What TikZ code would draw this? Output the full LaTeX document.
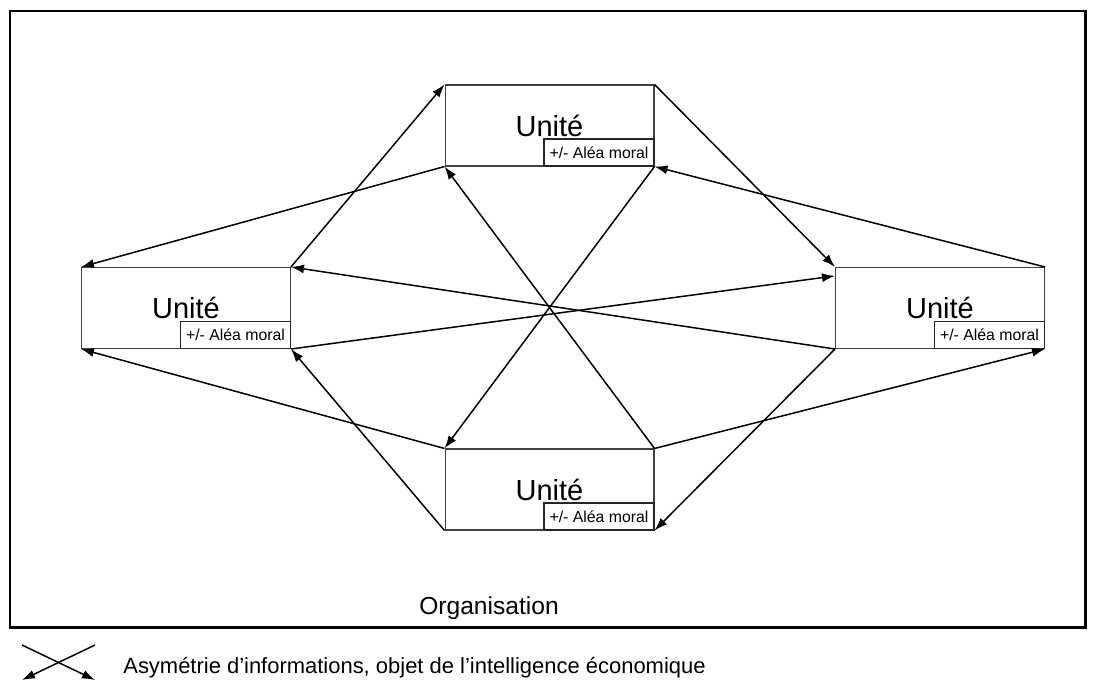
\documentclass[tikz,border=0pt]{standalone}
\usepackage{fontspec}
\setmainfont{Liberation Sans}
\usetikzlibrary{positioning}
\usetikzlibrary{arrows.meta}

\begin{document}
\begin{tikzpicture}[x=0.02cm, y=-0.02cm,
    unite/.style = {draw=black!75, line width=0.6pt, minimum width=4.18cm, minimum height=1.62cm, inner sep=0pt, font=\fontsize{16.5}{19}\selectfont},
    alea/.style = {draw=black!85, line width=0.6pt, anchor=south east, minimum width=2.2cm, minimum height=0.54cm, inner sep=0pt, font=\fontsize{9}{11}\selectfont},
    fleche/.style = {-{Latex[length=2.6mm, width=1.8mm]}, line width=0.85pt}]
    \useasboundingbox (0,0) rectangle (1095,693);
    \draw[line width=1.7pt] (10,11) rectangle (1085,627);
    \node[unite] (haut) at (549.5,125.5) {Unité};
    \node[unite] (gauche) at (186,308) {Unité};
    \node[unite] (droite) at (940,308) {Unité};
    \node[unite] (bas) at (549.5,489.5) {Unité};
    \node[alea] (aleaH) at (haut.south east) {+/- Aléa moral};
    \node[alea] (aleaG) at (gauche.south east) {+/- Aléa moral};
    \node[alea] (aleaD) at (droite.south east) {+/- Aléa moral};
    \node[alea] (aleaB) at (bas.south east) {+/- Aléa moral};
    \draw[fleche] (gauche.north east) -- (haut.north west);
    \draw[fleche] (haut.south west) -- (gauche.north west);
    \draw[fleche] (haut.north east) -- (droite.north west);
    \draw[fleche] (droite.north east) -- (haut.south east);
    \draw[fleche] (haut.south east) -- (bas.north west);
    \draw[fleche] (bas.north east) -- (haut.south west);
    \draw[fleche] (droite.south west) -- (gauche.north east);
    \draw[fleche] (gauche.south east) -- (droite.163);
    \draw[fleche] (bas.north west) -- (gauche.south west);
    \draw[fleche] (bas.south west) -- (gauche.south east);
    \draw[fleche] (droite.south west) -- (bas.south east);
    \draw[fleche] (bas.north east) -- (droite.south east);
    \node[font=\fontsize{14}{17}\selectfont] (orga) at (489,608) {Organisation};
    % legende
    \coordinate (lgHG) at (22,645);
    \coordinate (lgHD) at (95,645);
    \coordinate (lgBG) at (22,680);
    \coordinate (lgBD) at (95,680);
    \draw[fleche] (lgHD) -- (lgBG);
    \draw[fleche] (lgHG) -- (lgBD);
    \node[anchor=west, inner sep=0pt, font=\fontsize{12.5}{15}\selectfont] (legende) at (123,668) {Asymétrie d’informations, objet de l’intelligence économique};
\end{tikzpicture}
\end{document}
